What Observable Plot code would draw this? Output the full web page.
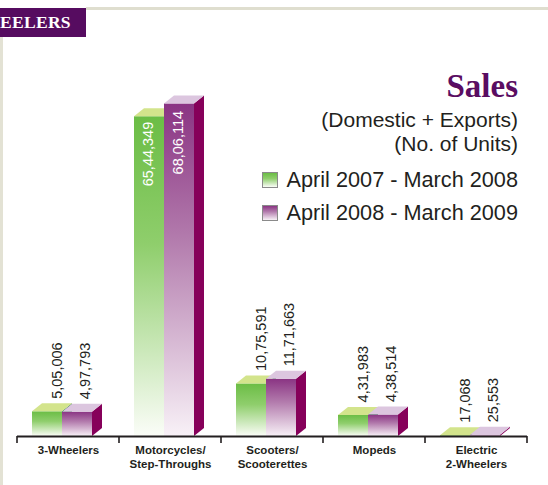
<!DOCTYPE html>
<html><head><meta charset="utf-8">
<script src="https://cdn.jsdelivr.net/npm/d3@7"></script>
<script src="https://cdn.jsdelivr.net/npm/@observablehq/plot@0.6"></script>
<style>
body{margin:0;background:#fff;}
#wrap{position:relative;width:548px;height:485px;overflow:hidden;background:#fff;font-family:"Liberation Sans",Arial,sans-serif;color:#231f20;}
#wrap svg{position:absolute;left:0;top:0;}
.ov{position:absolute;white-space:nowrap;}
</style></head><body><div id="wrap"></div>
<script>
// ---- data ----
const categories = ["3-Wheelers", "Motorcycles/\nStep-Throughs", "Scooters/\nScooterettes", "Mopeds", "Electric\n2-Wheelers"];
const sales0708 = [505006, 6544349, 1075591, 431983, 17068];
const sales0809 = [497793, 6806114, 1171663, 438514, 25553];
const seriesLabels = ["April 2007 - March 2008", "April 2008 - March 2009"];
const headerText = "EELERS";
const titleText = "Sales";
const subtitleLines = ["(Domestic + Exports)", "(No. of Units)"];

const rows = categories.map((cat, i) => ({cat, v07: sales0708[i], v08: sales0809[i]}));

function fmtIN(n) {
  const s = String(Math.round(n));
  if (s.length <= 3) return s;
  const last3 = s.slice(-3), rest = s.slice(0, -3);
  return rest.replace(/\B(?=(\d{2})+(?!\d))/g, ",") + "," + last3;
}

const FW = 30, DX = 10, DY = 8;
const series = [
  {key: "v07", off: -36, grad: "gGreen", top: "#d3e48c", side: "#0b6b35", stops: ["#6bbd45", "#8fce6c", "#fbfdf8"]},
  {key: "v08", off: -6, grad: "gPurple", top: "#dcc6df", side: "#86005a", stops: ["#8a3483", "#b27aac", "#f8f1f7"]}
];

const defsMark = (index, scales) => {
  const g = d3.create("svg:g");
  const defs = g.append("defs");
  for (const s of series) {
    const lg = defs.append("linearGradient").attr("id", s.grad).attr("x1", 0).attr("y1", 0).attr("x2", 0).attr("y2", 1);
    lg.append("stop").attr("offset", "0%").attr("stop-color", s.stops[0]);
    lg.append("stop").attr("offset", "40%").attr("stop-color", s.stops[1]);
    lg.append("stop").attr("offset", "100%").attr("stop-color", s.stops[2]);
  }
  // tick marks at band boundaries
  const bw = scales.x.bandwidth();
  const y0 = scales.y(0);
  const xs = categories.map(c => scales.x(c)).concat([scales.x(categories[categories.length - 1]) + bw]);
  for (const x of xs) {
    g.append("line").attr("x1", x).attr("x2", x).attr("y1", y0).attr("y2", y0 + 7)
      .attr("stroke", "#231f20").attr("stroke-width", 1.6);
  }
  return g.node();
};

const facesMark = (s) => (index, scales) => {
  const g = d3.create("svg:g");
  const bw = scales.x.bandwidth();
  const y0 = scales.y(0);
  for (const r of rows) {
    const c = scales.x(r.cat) + bw / 2;
    const x0 = c + s.off, x1 = x0 + FW;
    const yt = scales.y(r[s.key]);
    g.append("polygon").attr("fill", s.side)
      .attr("points", [[x1, yt], [x1 + DX, yt - DY], [x1 + DX, y0 - DY], [x1, y0]].join(" "));
    g.append("polygon").attr("fill", s.top)
      .attr("points", [[x0, yt], [x0 + DX, yt - DY], [x1 + DX, yt - DY], [x1, yt]].join(" "));
  }
  return g.node();
};

const bandW = 102;
const inside = d => d.v07 > 3e6;

const chart = Plot.plot({
  width: 548,
  height: 485,
  marginLeft: 17,
  marginRight: 21,
  marginTop: 94,
  marginBottom: 49,
  style: {background: "transparent", fontFamily: "Liberation Sans, Arial, sans-serif", color: "#231f20"},
  x: {domain: categories, padding: 0, axis: null},
  y: {domain: [0, 7e6], axis: null},
  marks: [
    defsMark,
    Plot.barY(rows, {x: "cat", y: "v07", fill: "url(#gGreen)", insetLeft: bandW / 2 + series[0].off, insetRight: bandW / 2 - series[0].off - FW}),
    facesMark(series[0]),
    Plot.barY(rows, {x: "cat", y: "v08", fill: "url(#gPurple)", insetLeft: bandW / 2 + series[1].off, insetRight: bandW / 2 - series[1].off - FW}),
    facesMark(series[1]),
    Plot.ruleY([0], {stroke: "#231f20", strokeWidth: 2}),
    // value labels above bars
    Plot.text(rows.filter(d => !inside(d)), {x: "cat", y: "v07", text: d => fmtIN(d.v07), rotate: -90, textAnchor: "start", dx: -11, dy: -13, fontSize: 14.5, fill: "#231f20"}),
    Plot.text(rows.filter(d => !inside(d)), {x: "cat", y: "v08", text: d => fmtIN(d.v08), rotate: -90, textAnchor: "start", dx: 17, dy: -13, fontSize: 14.5, fill: "#231f20"}),
    // value labels inside tall bars
    Plot.text(rows.filter(inside), {x: "cat", y: "v07", text: d => fmtIN(d.v07), rotate: -90, textAnchor: "end", dx: -22, dy: 5, fontSize: 14.5, fill: "#ffffff"}),
    Plot.text(rows.filter(inside), {x: "cat", y: "v08", text: d => fmtIN(d.v08), rotate: -90, textAnchor: "end", dx: 8, dy: 7, fontSize: 14.5, fill: "#ffffff"}),
    // category labels
    Plot.text(rows, {x: "cat", text: "cat", frameAnchor: "bottom", lineAnchor: "top", dy: 8, fontSize: 11.5, fontWeight: "bold", lineHeight: 1.2, fill: "#231f20"})
  ]
});

const wrap = document.getElementById("wrap");
// frame borders and header
const add = (html) => { const d = document.createElement("div"); d.innerHTML = html; const el = d.firstElementChild; wrap.appendChild(el); return el; };
add(`<div class="ov" style="left:86px;top:7px;width:462px;height:3px;background:#dfdecf"></div>`);
add(`<div class="ov" style="left:0;top:37px;width:3px;height:448px;background:#e3e2d4"></div>`);
add(`<div class="ov" style="left:0;top:8px;width:86px;height:29px;background:#560c60"></div>`);
wrap.appendChild(chart);
add(`<div class="ov" style="left:0;top:9px;height:27px;line-height:27px;font-family:'Liberation Serif',serif;font-weight:bold;font-size:17.5px;color:#fff;letter-spacing:0.3px">${headerText}</div>`);
add(`<div class="ov" style="right:30px;top:66px;font-family:'Liberation Serif',serif;font-weight:bold;font-size:33px;line-height:40px;color:#5a0d62">${titleText}</div>`);
add(`<div class="ov" style="right:30px;top:108px;font-size:21px;line-height:24px;text-align:right">${subtitleLines[0]}<br>${subtitleLines[1]}</div>`);
const legendColors = series.map(s => s.stops);
seriesLabels.forEach((lab, i) => {
  const top = 170 + i * 33;
  add(`<div class="ov" style="left:262px;top:${top + 2}px;width:14px;height:14px;border:1px solid #8a8a8a;background:linear-gradient(${legendColors[i][0]},${legendColors[i][1]} 40%,${legendColors[i][2]})"></div>`);
  add(`<div class="ov" style="right:30px;top:${top - 3}px;font-size:21.7px;line-height:26px">${lab}</div>`);
});
</script>
</body></html>
